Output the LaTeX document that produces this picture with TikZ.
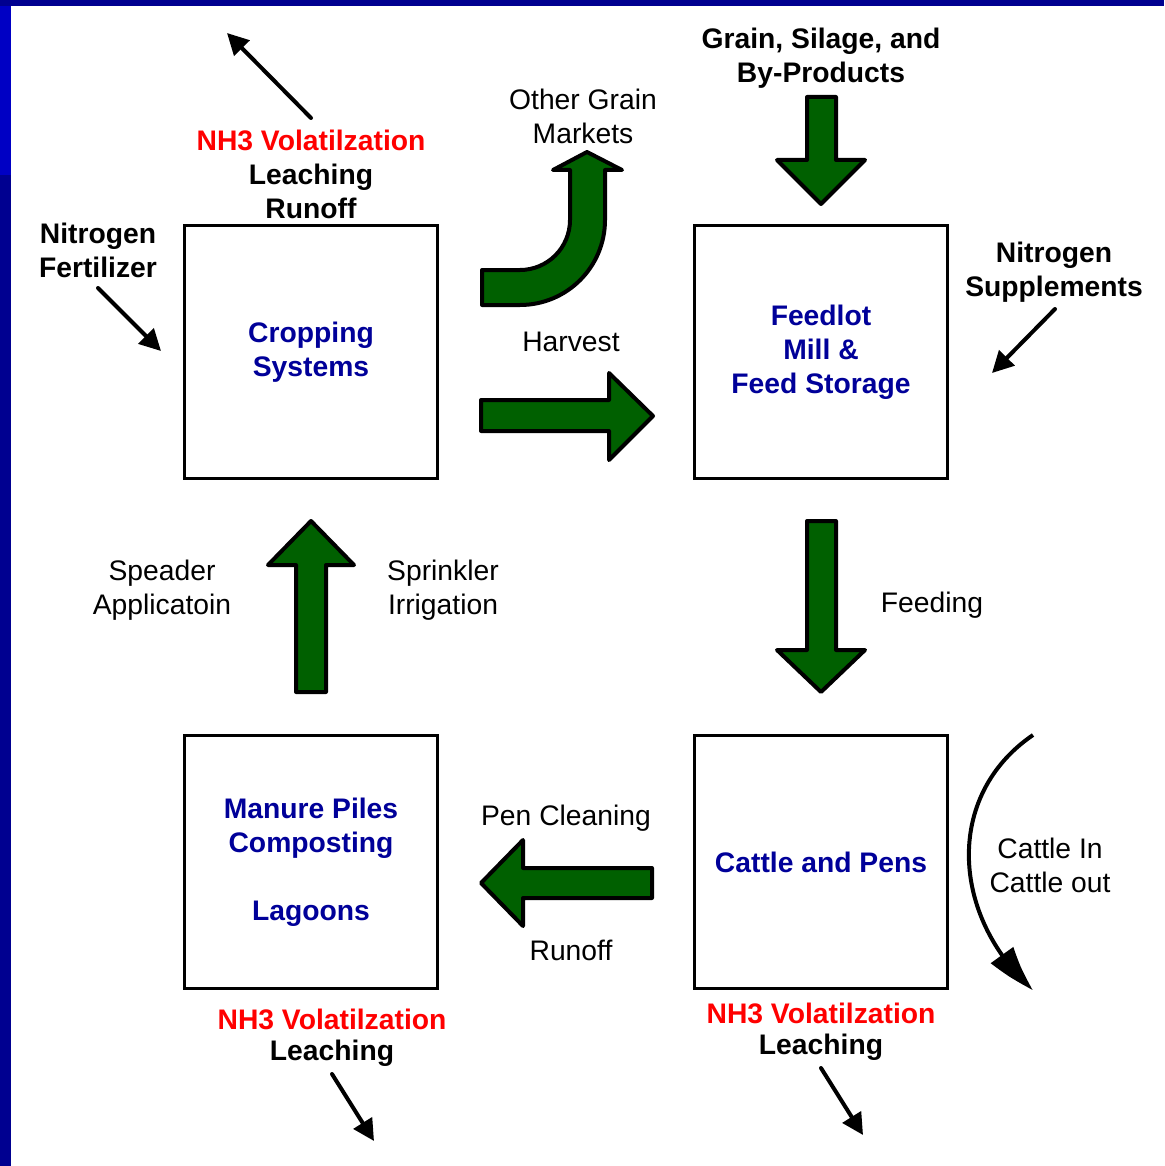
\documentclass[tikz,border=0pt]{standalone}
\usepackage{fontspec}
\setmainfont{Liberation Sans}
\usetikzlibrary{arrows.meta,bending}
\definecolor{arrowgreen}{RGB}{0,96,0}
\definecolor{boxblue}{RGB}{0,0,153}
\definecolor{framedark}{RGB}{0,0,144}
\definecolor{framebright}{RGB}{0,0,196}
\begin{document}
\begin{tikzpicture}[x=0.75pt,y=-0.75pt,
  box/.style={draw,line width=2.8pt,minimum width=189.75pt,minimum height=189.75pt,inner sep=0pt,
    font=\fontsize{21.2}{25.5}\selectfont\bfseries,text=boxblue,align=center},
  lbl/.style={inner sep=0pt,align=center,font=\fontsize{21.2}{25.5}\selectfont},
  blbl/.style={lbl,font=\fontsize{21.2}{25.5}\selectfont\bfseries},
  rlbl/.style={blbl,text=red},
  garrow/.style={fill=arrowgreen,draw=black,line width=3pt,line join=round},
  blk/.style={draw,line width=3pt,line cap=round,-{Triangle[length=16pt,width=16pt]}}]
\useasboundingbox (0,0) rectangle (1164,1166);
\fill[white] (0,0) rectangle (1164,1166);
% frame
\fill[framedark] (0,0) rectangle (11,1166);
\fill[framebright] (0,6) rectangle (11,175);
\fill[framedark] (0,0) rectangle (1164,6);

% boxes
\node[box] (crop) at (311,352) {\raisebox{-2pt}{\parbox{180pt}{\centering Cropping\\Systems}}};
\node[box] (feed) at (821,352) {\raisebox{-2pt}{\parbox{180pt}{\centering Feedlot\\Mill \&\\Feed Storage}}};
\node[box] (manure) at (311,862) {\raisebox{-2pt}{\parbox{180pt}{\centering Manure Piles\\Composting\\[25.5pt]Lagoons}}};
\node[box] (cattle) at (821,862) {Cattle and Pens};

% top-left labels
\node[rlbl] (nh3a) at (311,140) {NH3 Volatilzation};
\node[blbl] (leacha) at (311,191) {Leaching\\Runoff};
\coordinate (nh3astart) at (311,118);
\coordinate (nh3atip) at (227,33);
\draw[blk] (nh3astart) -- (nh3atip);

\node[blbl] (nfert) at (98,250) {Nitrogen\\Fertilizer};
\coordinate (nfertstart) at (98,288);
\coordinate (nferttip) at (161,351);
\draw[blk] (nfertstart) -- (nferttip);

\node[blbl] (grain) at (821,58) {Grain, Silage, and\\By-Products};
\node[blbl] (nsupp) at (1054,272) {Nitrogen\\Supplements};
\coordinate (nsuppstart) at (1055,309);
\coordinate (nsupptip) at (992,373);
\draw[blk] (nsuppstart) -- (nsupptip);

\node[lbl] (other) at (583,116) {Other Grain\\Markets};
\node[lbl] (harvest) at (571,342) {Harvest};
\node[lbl] (speader) at (162,590) {Speader\\Applicatoin};
\node[lbl] (sprink) at (443,590) {Sprinkler\\Irrigation};
\node[lbl] (feeding) at (932,605) {Feeding};
\node[lbl] (pen) at (566,818) {Pen Cleaning};
\node[lbl] (runoff) at (571,950) {Runoff};
\node[lbl] (cattlein) at (1050,865) {Cattle In\\Cattle out};

% bottom labels
\node[rlbl] (nh3b) at (332,1019) {NH3 Volatilzation};
\node[blbl] (leachb) at (332,1053) {Leaching};
\coordinate (bstart) at (332,1074);
\coordinate (btip) at (374,1141);
\draw[blk] (bstart) -- (btip);

\node[rlbl] (nh3c) at (821,1013) {NH3 Volatilzation};
\node[blbl] (leachc) at (821,1047) {Leaching};
\coordinate (cstart) at (821,1068);
\coordinate (ctip) at (863,1135);
\draw[blk] (cstart) -- (ctip);

% cattle in/out arc
\coordinate (cattletop) at (1033,735);
\coordinate (cattlebot) at (1033,990);
\draw[line width=3pt,-{Triangle[length=36pt,width=20pt,bend]}] (cattletop) .. controls (945,795) and (950,915) .. (cattlebot);

% green block arrows
\draw[garrow] (481,400) -- (609,400) -- (609,373) -- (653,416) -- (609,460) -- (609,431) -- (481,431) -- cycle;
\draw[garrow] (807,97) -- (836,97) -- (836,160) -- (865,160) -- (821,204) -- (777,160) -- (807,160) -- cycle;
\draw[garrow] (807,521) -- (836,521) -- (836,650) -- (865,650) -- (821,692) -- (777,650) -- (807,650) -- cycle;
\draw[garrow] (296,692) -- (326,692) -- (326,565) -- (354,565) -- (311,521) -- (268,565) -- (296,565) -- cycle;
\draw[garrow] (652,868) -- (652,898) -- (523,898) -- (523,926) -- (481,883) -- (523,840) -- (523,868) -- cycle;
\draw[garrow] (482,270) -- (520,270) arc[start angle=90,end angle=0,radius=50] -- (570,170) -- (553,170) -- (587,152) -- (622,170) -- (605,170) -- (605,220) arc[start angle=0,end angle=90,radius=85] -- (482,305) -- cycle;
\end{tikzpicture}
\end{document}
